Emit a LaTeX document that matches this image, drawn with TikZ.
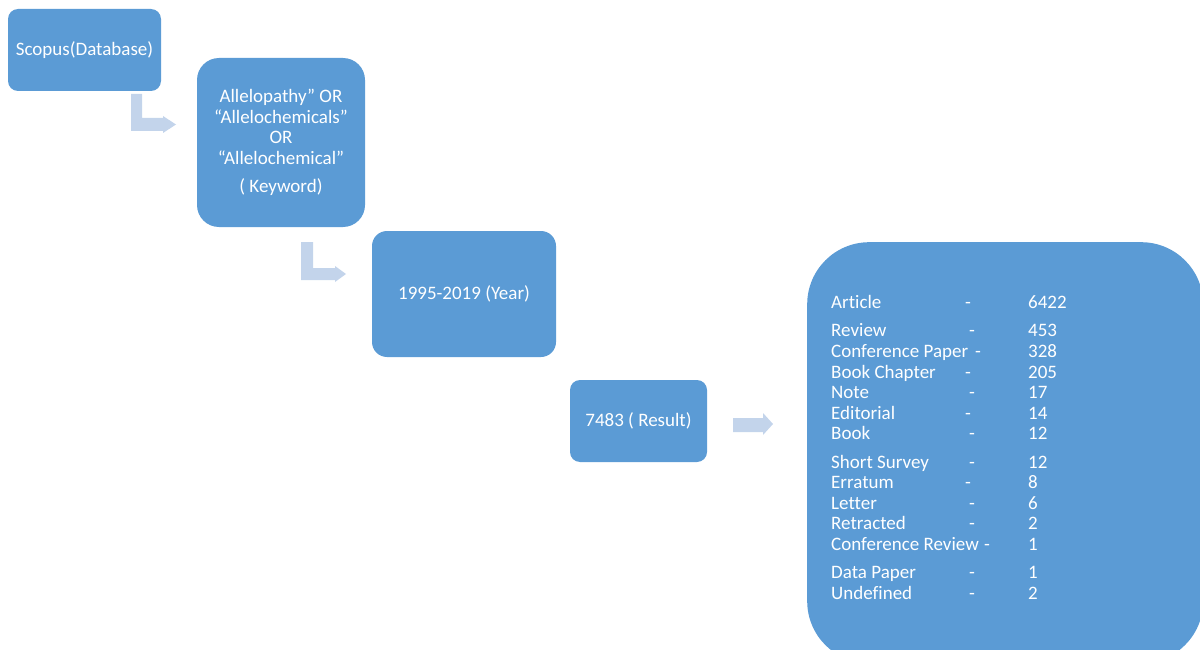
\documentclass[tikz,border=0pt]{standalone}
\usepackage{fontspec}
\setmainfont{Carlito}[Ligatures=NoCommon]
\definecolor{boxblue}{HTML}{5B9BD5}
\definecolor{arrowblue}{HTML}{C3D4EB}
\begin{document}
\begin{tikzpicture}[x=1pt,y=-1pt,
  flowbox/.style={fill=boxblue,draw=none,text=white,align=center,inner sep=0pt,
    font=\fontsize{19}{20.5}\selectfont},
  listtext/.style={text=white,anchor=base west,inner sep=0pt,font=\fontsize{19}{20.5}\selectfont},
  blockarrow/.style={fill=arrowblue,draw=none}]
\useasboundingbox (0,0) rectangle (1200,650);
\begin{scope}
\clip (0,0) rectangle (1200,650);
\node[flowbox,rounded corners=10pt,minimum width=153pt,minimum height=82pt] (scopus) at (84.5,50) {Scopus(Database)};
\node[flowbox,rounded corners=22pt,minimum width=168pt,minimum height=169pt] (keyword) at (281,142.5)
  {Allelopathy” OR\\“Allelochemicals”\\OR\\“Allelochemical”\\[7.5pt]( Keyword)};
\node[flowbox,rounded corners=15pt,minimum width=184pt,minimum height=126pt] (year) at (464,294) {1995-2019 (Year)};
\node[flowbox,rounded corners=10pt,minimum width=137pt,minimum height=82pt] (result) at (638.5,421) {7483 ( Result)};
\node[flowbox,rounded corners=62pt,minimum width=396pt,minimum height=421pt,anchor=north west] (types) at (807,242) {};
\end{scope}
% block arrows
\fill[blockarrow] (131,94) -- (142,94) -- (142,118) -- (163,118) -- (163,116) -- (176,124.5) -- (163,133) -- (163,131) -- (131,131) -- cycle;
\fill[blockarrow] (301,242) -- (313,242) -- (313,268) -- (335,268) -- (335,266) -- (346,274) -- (335,282) -- (335,280) -- (301,280) -- cycle;
\fill[blockarrow] (733,418) -- (763,418) -- (763,413) -- (773,424) -- (763,435) -- (763,432) -- (733,432) -- cycle;
% list
\foreach \lab/\dx/\num/\yy in {
  Article/965/6422/308,
  Review/969/453/336,
  Conference Paper/975/328/357,
  Book Chapter/965/205/378,
  Note/969/17/398,
  Editorial/965/14/419,
  Book/969/12/439,
  Short Survey/969/12/468,
  Erratum/965/8/488,
  Letter/969/6/509,
  Retracted/969/2/529,
  Conference Review/984/1/550,
  Data Paper/969/1/578,
  Undefined/969/2/599}{
  \node[listtext] at (831,\yy) {\lab};
  \node[listtext] at (\dx,\yy) {-};
  \node[listtext] at (1028,\yy) {\num};
}
\end{tikzpicture}
\end{document}
